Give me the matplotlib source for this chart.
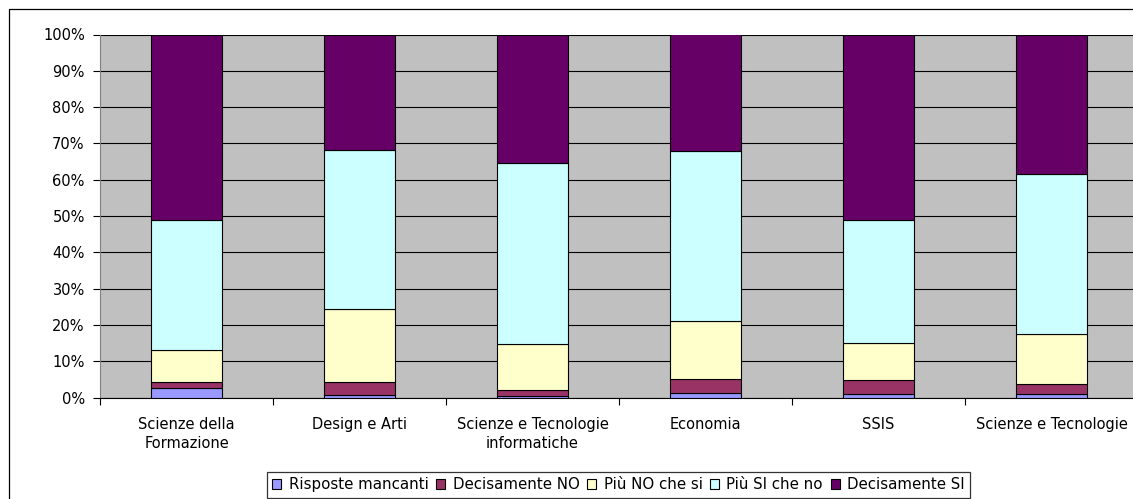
import numpy as np
import matplotlib
matplotlib.use("Agg")
import matplotlib.pyplot as plt
from matplotlib.patches import Rectangle, Patch

W, H = 1133, 499

categories = ["Scienze della\nFormazione", "Design e Arti", "Scienze e Tecnologie\ninformatiche",
              "Economia", "SSIS", "Scienze e Tecnologie"]
series_names = ["Risposte mancanti", "Decisamente NO", "Più NO che si", "Più SI che no", "Decisamente SI"]
risposte_mancanti = [2.5, 0.8, 0.4, 1.2, 0.9, 0.9]
decisamente_no = [1.9, 3.4, 1.6, 3.9, 3.8, 2.9]
piu_no = [8.6, 20.2, 12.8, 16.1, 10.2, 13.7]
piu_si = [36.0, 43.9, 49.7, 46.8, 33.9, 44.0]
decisamente_si = [51.0, 31.7, 35.5, 32.0, 51.2, 38.5]
colors = ["#9999FF", "#993366", "#FFFFCC", "#CCFFFF", "#660066"]

plt.rcParams["font.family"] = ["DejaVu Sans"]
FS = 10.5

fig = plt.figure(figsize=(W / 100, H / 100), dpi=100)
fig.patch.set_facecolor("white")
# outer chart border (right and bottom fall outside the picture)
fig.add_artist(Rectangle((9 / W, -0.1), 1.2, 1 - 9 / H + 0.1, transform=fig.transFigure,
                         fill=False, edgecolor="black", lw=0.9))

ax = fig.add_axes([100 / W, 1 - 397.5 / H, 1038 / W, 363 / H])
ax.set_facecolor("#C0C0C0")

x = np.arange(len(categories))
data = [risposte_mancanti, decisamente_no, piu_no, piu_si, decisamente_si]
bottom = np.zeros(len(categories))
for vals, col, name in zip(data, colors, series_names):
    ax.bar(x, vals, 0.405, bottom=bottom, color=col, edgecolor="black", lw=0.8,
           label=name, zorder=3)
    bottom += np.array(vals)

ax.set_xlim(-0.5, len(categories) - 0.5)
ax.set_ylim(0, 100)
ax.set_yticks(np.arange(0, 101, 10))
ax.set_yticklabels([f"{v}%" for v in range(0, 101, 10)], fontsize=FS)
ax.yaxis.grid(True, color="black", lw=0.8, zorder=1)
ax.set_axisbelow(True)

ax.set_xticks(x)
ax.set_xticklabels(categories, fontsize=FS, linespacing=1.35)
ax.set_xticks(np.arange(-0.5, len(categories), 1), minor=True)
ax.tick_params(axis="x", which="major", length=0, pad=14)
ax.tick_params(axis="x", which="minor", length=5, color="black", width=0.8)
ax.tick_params(axis="y", length=5, width=0.8, pad=6)

for s in ["top", "right"]:
    ax.spines[s].set_visible(False)
ax.spines["left"].set_color("#808080")
ax.spines["bottom"].set_color("black")
ax.spines["left"].set_linewidth(0.8)
ax.spines["bottom"].set_linewidth(0.8)

handles = [Patch(facecolor=c, edgecolor="black", lw=0.8) for c in colors]
leg = fig.legend(handles, series_names, loc="upper left", bbox_to_anchor=(267 / W, 1 - 472 / H),
                 ncol=5, fontsize=10.8, frameon=True, fancybox=False, handlelength=0.6,
                 handleheight=0.6, handletextpad=0.5, columnspacing=0.5, borderpad=0.35,
                 borderaxespad=0)
leg.get_frame().set_edgecolor("black")
leg.get_frame().set_linewidth(0.9)

fig.savefig("out.png", dpi=100)
